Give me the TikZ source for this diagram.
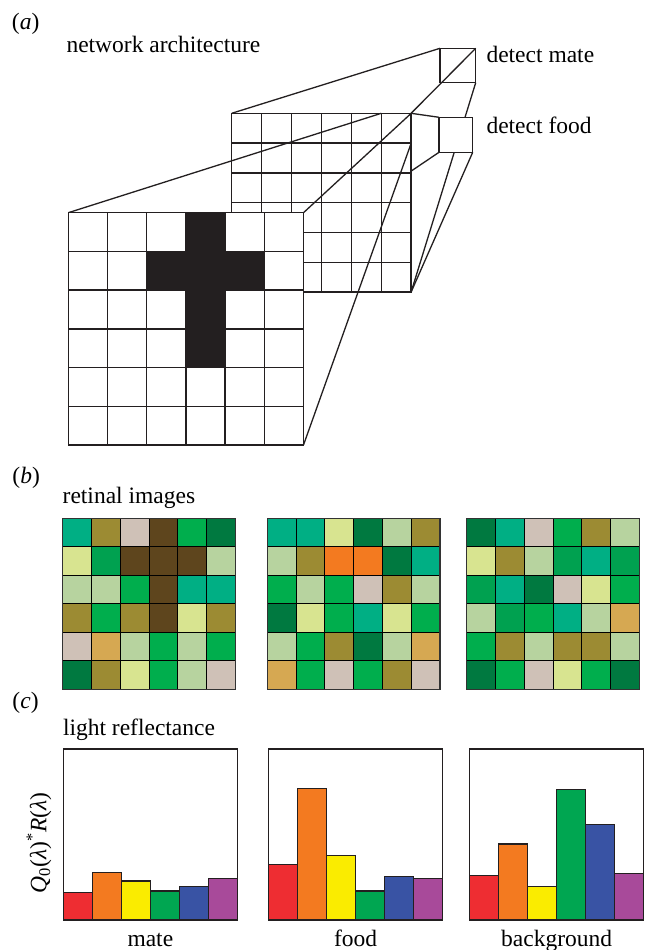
\documentclass[tikz,border=0pt]{standalone}
\usepackage{fontspec}
\setmainfont{Liberation Serif}
\usetikzlibrary{calc}
\definecolor{ink}{HTML}{231F20}
\definecolor{rtl}{HTML}{00AF84}
\definecolor{rol}{HTML}{9C8B33}
\definecolor{rbg}{HTML}{CFC1B7}
\definecolor{rbr}{HTML}{5E451D}
\definecolor{rgr}{HTML}{00AE4D}
\definecolor{rdg}{HTML}{007940}
\definecolor{rpy}{HTML}{D8E490}
\definecolor{rmg}{HTML}{00A150}
\definecolor{rsg}{HTML}{B7D39F}
\definecolor{rtn}{HTML}{D6A852}
\definecolor{ror}{HTML}{F37A20}
\definecolor{bred}{HTML}{EE2D32}
\definecolor{bora}{HTML}{F37A20}
\definecolor{byel}{HTML}{FAEC00}
\definecolor{bgrn}{HTML}{00A651}
\definecolor{bblu}{HTML}{3953A4}
\definecolor{bpur}{HTML}{A84A9A}
\begin{document}
\begin{tikzpicture}[x=1pt,y=-1pt,
  txt/.style={font=\fontsize{23.5}{28}\selectfont, inner sep=0pt, outer sep=0pt},
  phantombox/.style={inner sep=0pt, outer sep=0pt},
  frame/.style={draw=ink, line width=1.3pt, inner sep=0pt, outer sep=0pt},
  gridln/.style={draw=ink, line width=1.3pt},
  conn/.style={draw=ink, line width=1.3pt},
  retln/.style={draw=black, line width=1.1pt},
  barst/.style={draw=ink, line width=1.2pt},
  line join=miter]
\useasboundingbox[fill=white] (0,0) rectangle (651,950);

% ---------------- (a) ----------------
\node[txt, anchor=base west] (la) at (12,30) {(\textit{a})};
\node[txt, anchor=base west] (tnet) at (66.5,52.5) {network architecture};
\node[txt, anchor=base west] (tmate) at (486.5,63) {detect mate};
\node[txt, anchor=base west] (tfood) at (486.5,133.5) {detect food};

% layout boxes (drawn later)
\node[phantombox, minimum width=179.4pt, minimum height=178.8pt] (back) at (321.4,202.7) {};
\node[phantombox, minimum width=29.9pt, minimum height=29.8pt] (bcell) at (396.25,128.2) {};
\node[phantombox, minimum width=235.2pt, minimum height=232.3pt] (front) at (185.9,328.85) {};

% output: mate
\node[frame, minimum width=35.7pt, minimum height=34.4pt] (mate) at (457.85,65.5) {};
\draw[conn] (back.north west) -- (mate.north west);
\draw[conn] (back.north east) -- (mate.north east);
\draw[conn] (back.south east) -- (mate.south east);

% output: food
\node[frame, fill=white, minimum width=33.7pt, minimum height=35pt] (food) at (455.85,134.8) {};
\draw[conn] (back.north east) -- (food.north west);
\draw[conn] (back.south east) -- (food.south east);
\draw[conn] (back.south west) -- (food.south west);

% hidden layer grid
\draw[gridln, fill=white] (back.north west) rectangle (back.south east);
\foreach \i in {1,...,5} {
  \draw[gridln] ({231.7+\i*29.9},113.3) -- ++(0,178.8);
  \draw[gridln] (231.7,{113.3+\i*29.8}) -- ++(179.4,0);
}

% receptive field lines
\draw[conn] (front.north west) -- (bcell.north west);
\draw[conn] (front.north east) -- (bcell.north east);
\draw[conn] (front.south east) -- (bcell.south east);

% input grid
\fill[white] (front.north west) rectangle (front.south east);
\fill[ink] (185.9,212.7) rectangle ++(39.2,154.9);
\fill[ink] (146.7,251.42) rectangle ++(117.6,38.72);
\foreach \i in {1,...,5} {
  \draw[gridln] ({68.3+\i*39.2},212.7) -- ++(0,232.3);
  \draw[gridln] (68.3,{212.7+\i*38.72}) -- ++(235.2,0);
}
\draw[gridln] (front.north west) rectangle (front.south east);

% ---------------- (b) ----------------
\node[txt, anchor=base west] (lb) at (12.5,483) {(\textit{b})};
\node[txt, anchor=base west] (tret) at (62.7,503) {retinal images};

\def\cw{28.8}
\def\ch{28.5}
\foreach \gx/\rows [count=\g] in {
  62.7/{{rtl,rol,rbg,rbr,rgr,rdg},{rpy,rmg,rbr,rbr,rbr,rsg},{rsg,rsg,rgr,rbr,rtl,rtl},{rol,rgr,rol,rbr,rpy,rol},{rbg,rtn,rsg,rgr,rsg,rgr},{rdg,rol,rpy,rgr,rsg,rbg}},
  267.3/{{rtl,rtl,rpy,rdg,rsg,rol},{rsg,rol,ror,ror,rdg,rtl},{rgr,rsg,rgr,rbg,rol,rsg},{rdg,rpy,rgr,rtl,rpy,rgr},{rsg,rgr,rol,rdg,rsg,rtn},{rtn,rgr,rbg,rgr,rol,rbg}},
  466.7/{{rdg,rtl,rbg,rgr,rol,rsg},{rpy,rol,rsg,rmg,rtl,rmg},{rmg,rtl,rdg,rbg,rpy,rgr},{rsg,rmg,rgr,rtl,rsg,rtn},{rgr,rol,rsg,rol,rol,rsg},{rdg,rgr,rbg,rpy,rgr,rdg}}} {
  \foreach \row [count=\r from 0] in \rows {
    \foreach \c [count=\k from 0] in \row {
      \fill[\c] ({\gx+\k*\cw},{518.3+\r*\ch}) rectangle ++(\cw,\ch);
    }
  }
  \foreach \i in {1,...,5} {
    \draw[retln] ({\gx+\i*\cw},518.3) -- ++(0,6*\ch);
    \draw[retln] (\gx,{518.3+\i*\ch}) -- ++(6*\cw,0);
  }
  \node[draw=black!80, line width=1.3pt, inner sep=0pt, outer sep=0pt,
        minimum width=172.8pt, minimum height=171pt, anchor=north west] (img\g) at (\gx,518.3) {};
}

% ---------------- (c) ----------------
\node[txt, anchor=base west] (lc) at (12.5,708.5) {(\textit{c})};
\node[txt, anchor=base west] (tlight) at (63,735) {light reflectance};
\node[txt, rotate=90] (ylab) at (39,843)
  {\textit{Q}\textsubscript{0}(\textit{λ})\textsuperscript{*}\textit{R}(\textit{λ})};

\def\bw{28.95}
\foreach \bx/\hs/\name/\lab in {
  63.5/{892.3,872.7,881,891,886.7,878.7}/chmate/mate,
  268.7/{864.3,788.3,855.7,891,876.7,878.7}/chfood/food,
  469.8/{875.7,844,886.7,789.3,824.3,873.3}/chback/background} {
  \node[frame, minimum width=173.7pt, minimum height=171pt, anchor=north west] (\name) at (\bx,749) {};
  \foreach \h/\col [count=\k from 0] in \hs {
    \pgfmathsetmacro{\cl}{{"bred","bora","byel","bgrn","bblu","bpur"}[\k]}
    \draw[barst, fill=\cl] ({\bx+\k*\bw},920) rectangle ({\bx+(\k+1)*\bw},\h);
  }
  \draw[draw=ink, line width=1.3pt] (\name.north west) rectangle (\name.south east);
  \node[txt, anchor=base] (lab\name) at ($(\name.south)+(0,26.5)$) {\lab};
}
\end{tikzpicture}
\end{document}
